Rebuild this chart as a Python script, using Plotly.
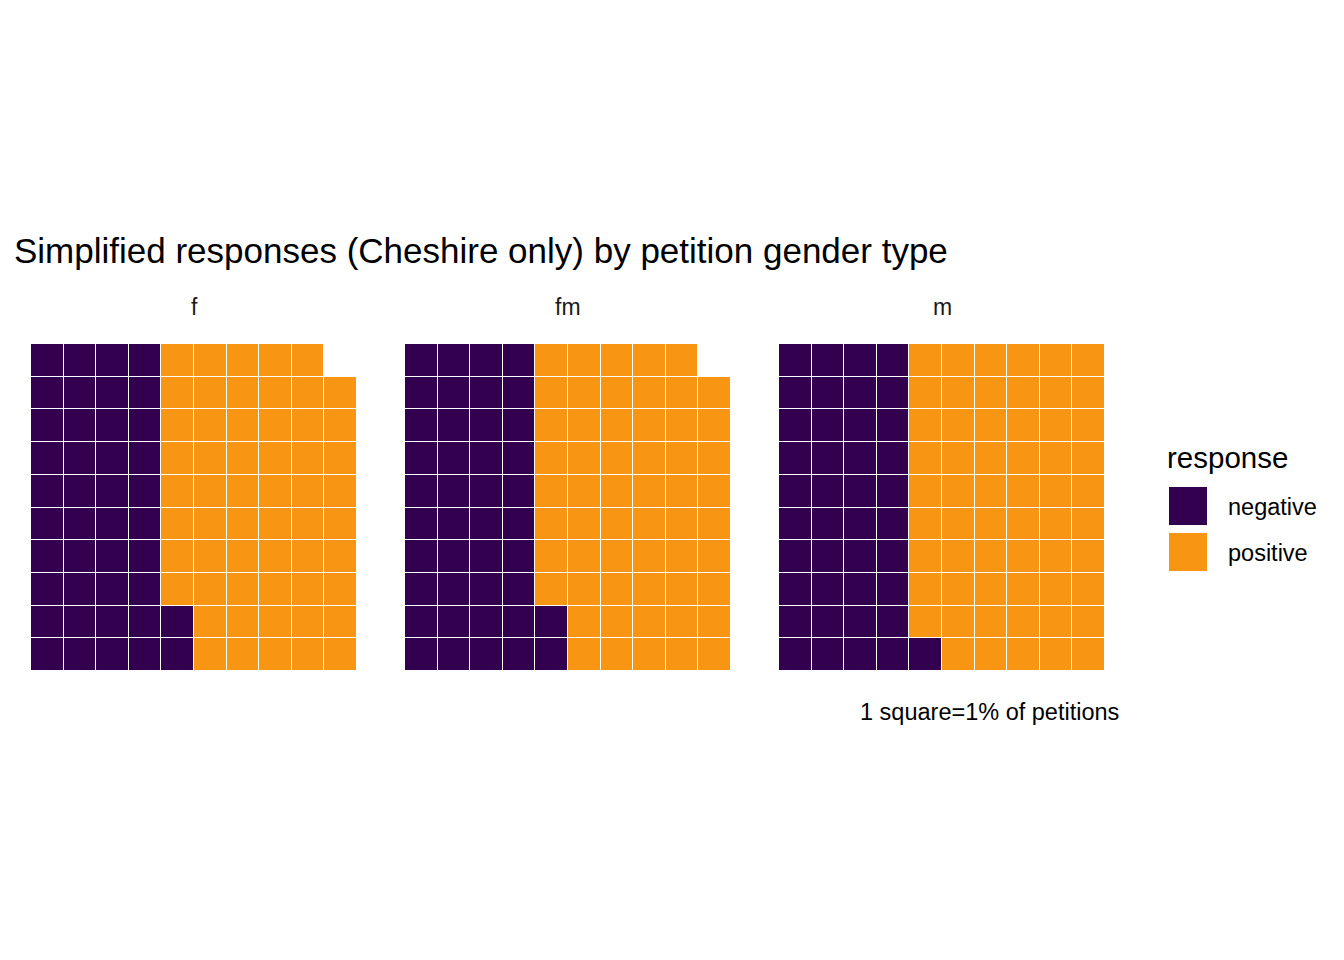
import numpy as np
import plotly.graph_objects as go

# waffle counts per petition gender type (1 square = 1%)
facets = ["f", "fm", "m"]
responses = ["negative", "positive"]
negative = [42, 42, 41]
positive = [57, 57, 59]

colors = {"negative": "#330050", "positive": "#F89614"}
font_family = "Liberation Sans, Arial, sans-serif"

W, H = 1344, 960
OFF = 8  # page margin of the browser


def px_x(x):
    return (x - OFF) / W


def px_y(y):
    return 1 - (y - OFF) / H


def waffle_grid(n_neg, n_pos, nrows=10, ncols=10):
    # filled column by column, bottom to top
    z = np.full((nrows, ncols), np.nan)
    k = 0
    for val, n in [(0, n_neg), (1, n_pos)]:
        for _ in range(n):
            z[k % nrows, k // nrows] = val
            k += 1
    return z


fig = go.Figure()

x_left = [31, 405, 779]
panel_w = 326
y_dom = [px_y(671), px_y(344)]
scale = [[0, colors["negative"]], [0.5, colors["negative"]],
         [0.5, colors["positive"]], [1, colors["positive"]]]

for i, name in enumerate(facets):
    z = waffle_grid(negative[i], positive[i])
    suffix = "" if i == 0 else str(i + 1)
    text = [[("" if np.isnan(v) else responses[int(v)]) for v in row] for row in z]
    fig.add_trace(go.Heatmap(
        z=z, x=list(range(1, 11)), y=list(range(1, 11)),
        text=text, hovertemplate=name + ": %{text}<extra></extra>",
        colorscale=scale, zmin=0, zmax=1, showscale=False,
        xgap=1, ygap=1,
        xaxis="x" + suffix, yaxis="y" + suffix,
    ))
    fig.layout["xaxis" + suffix] = dict(
        domain=[px_x(x_left[i]), px_x(x_left[i] + panel_w)], range=[0.5, 10.5],
        visible=False, fixedrange=True, anchor="y" + suffix)
    fig.layout["yaxis" + suffix] = dict(
        domain=y_dom, range=[0.5, 10.5], visible=False, fixedrange=True,
        anchor="x" + suffix)
    # facet strip label
    fig.add_annotation(text=name, x=px_x(x_left[i] + panel_w / 2), y=px_y(307),
                       xref="paper", yref="paper", showarrow=False,
                       xanchor="center", yanchor="middle",
                       font=dict(size=23, color="#1a1a1a"))

# caption
fig.add_annotation(text="1 square=1% of petitions", x=px_x(1121), y=px_y(712),
                   xref="paper", yref="paper", showarrow=False,
                   xanchor="right", yanchor="middle", font=dict(size=23.5, color="black"))

# legend (drawn by hand so the keys match the big squares)
fig.add_annotation(text="response", x=px_x(1165), y=px_y(457),
                   xref="paper", yref="paper", showarrow=False,
                   xanchor="left", yanchor="middle", font=dict(size=29.5, color="black"))
for j, r in enumerate(responses):
    top = 487 + j * 46
    fig.add_shape(type="rect", xref="paper", yref="paper",
                  x0=px_x(1169), x1=px_x(1207), y0=px_y(top + 38), y1=px_y(top),
                  fillcolor=colors[r], line=dict(width=0))
    fig.add_annotation(text=r, x=px_x(1226), y=px_y(top + 20),
                       xref="paper", yref="paper", showarrow=False,
                       xanchor="left", yanchor="middle", font=dict(size=23.5, color="black"))

fig.update_layout(
    width=W, height=H,
    margin=dict(l=0, r=0, t=0, b=0),
    paper_bgcolor="white", plot_bgcolor="white",
    font=dict(family=font_family),
    showlegend=False,
    title=dict(text="Simplified responses (Cheshire only) by petition gender type",
               x=px_x(14), xanchor="left", xref="paper",
               y=px_y(251), yanchor="middle", yref="paper",
               font=dict(size=35, color="black")),
)

fig.write_html("out.html")
